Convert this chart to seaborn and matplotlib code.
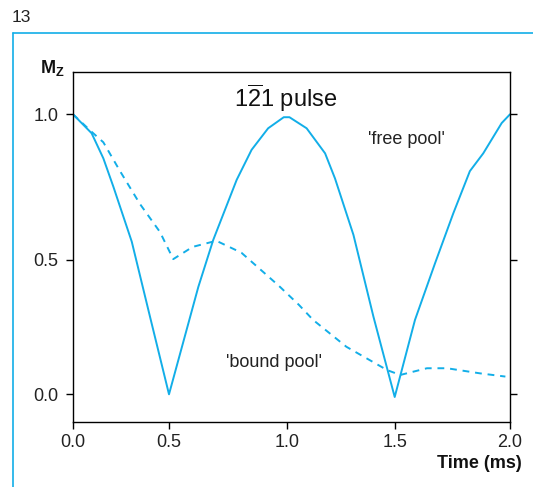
import numpy as np
import pandas as pd
import matplotlib
matplotlib.use("Agg")
import matplotlib.pyplot as plt
from matplotlib.lines import Line2D
import seaborn as sns

# Data (time in ms, Mz normalised)
free_time = [0.0, 0.097, 0.158, 0.21, 0.306, 0.401, 0.5, 0.624, 0.687, 0.786, 0.849,
             0.919, 0.985, 1.01, 1.09, 1.176, 1.222, 1.308, 1.401, 1.5, 1.588, 1.675,
             1.754, 1.826, 1.884, 1.964, 2.0]
free_mz = [1.0, 0.935, 0.849, 0.752, 0.563, 0.289, 0.0, 0.40, 0.569, 0.775, 0.878,
           0.952, 0.99, 0.99, 0.952, 0.866, 0.78, 0.586, 0.289, -0.01, 0.277, 0.488,
           0.66, 0.805, 0.866, 0.97, 1.0]

bound_time = [0.0, 0.097, 0.158, 0.245, 0.349, 0.453, 0.518, 0.6, 0.70, 0.806, 0.918,
              0.969, 1.054, 1.12, 1.275, 1.465, 1.524, 1.64, 1.727, 1.87, 1.98]
bound_mz = [1.0, 0.94, 0.904, 0.805, 0.692, 0.596, 0.503, 0.545, 0.566, 0.525, 0.44,
            0.40, 0.333, 0.277, 0.177, 0.09, 0.072, 0.097, 0.097, 0.078, 0.066]

x_ticks = [0.0, 0.5, 1.0, 1.5, 2.0]
y_ticks = [0.0, 0.5, 1.0]

# the printed axes are not evenly spaced: tick positions measured in pixels
x_tick_px = [0.0, 96.0, 214.3, 321.7, 437.0]
y_tick_px = [92.7, 227.0, 372.7]

free = pd.DataFrame({"time": free_time, "mz": free_mz})
bound = pd.DataFrame({"time": bound_time, "mz": bound_mz})

blue = "#12aee8"


def piecewise(v, xs, ys):
    v = np.asarray(v, dtype=float)
    shape = v.shape
    v = np.atleast_1d(v)
    out = np.interp(v, xs, ys)
    lo = v < xs[0]
    hi = v > xs[-1]
    out[lo] = ys[0] + (v[lo] - xs[0]) * (ys[1] - ys[0]) / (xs[1] - xs[0])
    out[hi] = ys[-1] + (v[hi] - xs[-1]) * (ys[-1] - ys[-2]) / (xs[-1] - xs[-2])
    return out.reshape(shape)


sns.set_theme(style="ticks")
plt.rcParams["font.family"] = ["Liberation Sans", "DejaVu Sans"]
plt.rcParams["mathtext.fontset"] = "custom"
plt.rcParams["mathtext.rm"] = "Liberation Sans"
plt.rcParams["mathtext.bf"] = "Liberation Sans:bold"

fig = plt.figure(figsize=(5.33, 4.87), dpi=100)
ax = fig.add_axes([73 / 533, 65 / 487, 437 / 533, 350 / 487])

ax.set_xscale("function", functions=(lambda v: piecewise(v, x_ticks, x_tick_px),
                                     lambda p: piecewise(p, x_tick_px, x_ticks)))
ax.set_yscale("function", functions=(lambda v: piecewise(v, y_ticks, y_tick_px),
                                     lambda p: piecewise(p, y_tick_px, y_ticks)))

sns.lineplot(data=free, x="time", y="mz", ax=ax, color=blue, lw=1.4, sort=False)
sns.lineplot(data=bound, x="time", y="mz", ax=ax, color=blue, lw=1.4, sort=False,
             linestyle=(0, (3.5, 3)))

ax.set_xlim(0, 2)
ax.set_ylim(float(piecewise(65, y_tick_px, y_ticks)), float(piecewise(415, y_tick_px, y_ticks)))
ax.set_xticks(x_ticks)
ax.set_yticks(y_ticks)
ax.set_xticklabels(["0.0", "0.5", "1.0", "1.5", "2.0"])
ax.set_yticklabels(["0.0", "0.5", "1.0"])
ax.xaxis.set_minor_locator(matplotlib.ticker.NullLocator())
ax.yaxis.set_minor_locator(matplotlib.ticker.NullLocator())
ax.tick_params(axis="both", direction="out", length=5, width=1, color="black",
               labelsize=13, labelcolor="#222222")
ax.tick_params(axis="y", right=True, pad=5.5)
ax.set_xlabel("")
ax.set_ylabel("")
for s in ax.spines.values():
    s.set_color("black")
    s.set_linewidth(1)

ax.text(0.487, 0.925, "1$\\mathregular{\\overline{2}}$1 pulse", transform=ax.transAxes,
        ha="center", va="center", fontsize=17, color="#111111")
ax.text(1.376, 0.912, "'free pool'", ha="left", va="center", fontsize=13, color="#222222")
ax.text(0.741, 0.12, "'bound pool'", ha="left", va="center", fontsize=13, color="#222222")

fig.text(522 / 533, 1 - 464 / 487, "Time (ms)", ha="right", va="center",
         fontsize=13, fontweight="bold", color="#111111")
fig.text(40 / 533, 1 - 68 / 487, "M$_\\mathbf{Z}$", ha="left", va="center",
         fontsize=13, fontweight="bold", color="#111111")
fig.text(12 / 533, 1 - 18 / 487, "13", ha="left", va="center", fontsize=12.5, color="#222222")

# light blue page frame
top = 1 - 33 / 487
fig.add_artist(Line2D([13 / 533, 1], [top, top], transform=fig.transFigure, color=blue, lw=1.2))
fig.add_artist(Line2D([13 / 533, 13 / 533], [0, top], transform=fig.transFigure, color=blue, lw=1.2))

fig.savefig("out.png", dpi=100)
